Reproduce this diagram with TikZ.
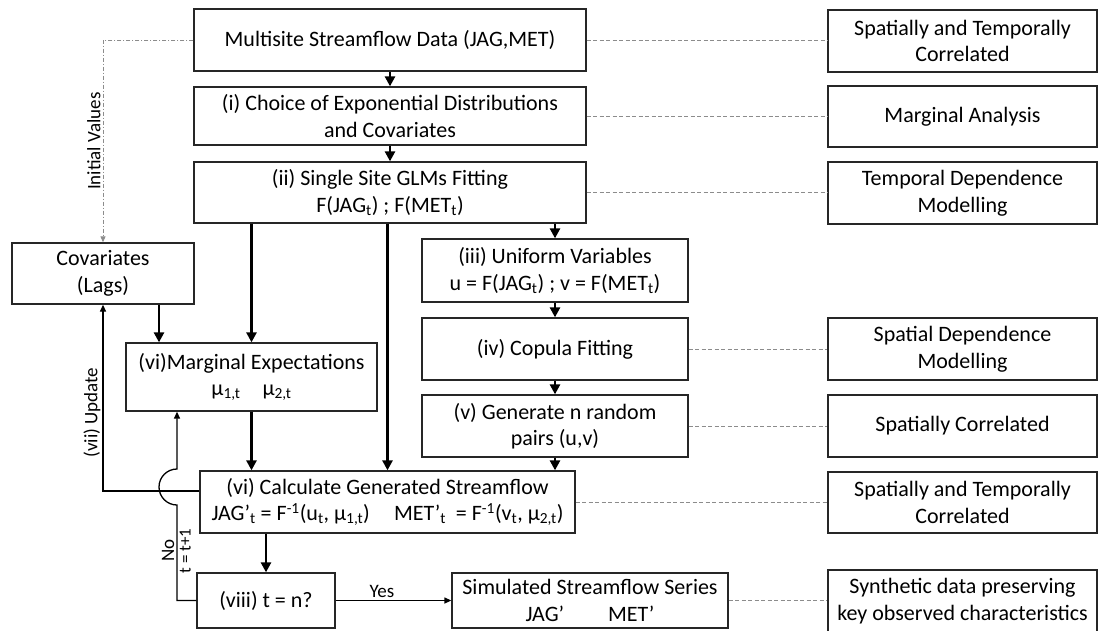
\documentclass[tikz,border=0pt]{standalone}
\usepackage{fontspec}
\setmainfont{Carlito}
\usetikzlibrary{arrows.meta}
\newcommand{\sub}[1]{\textsubscript{#1}}
\newcommand{\spr}[1]{\textsuperscript{#1}}
\tikzset{
  box/.style={draw=black!85, line width=1.3pt, fill=white, align=center,
    inner sep=0pt, font=\fontsize{22}{26.5}\selectfont},
  flow/.style={line width=2.6pt, -{Triangle[length=10pt,width=10pt]}},
  link/.style={line width=1.3pt, -{Triangle[length=7pt,width=6pt]}},
  note/.style={draw=black!45, line width=0.9pt, dash pattern=on 4pt off 2.5pt},
  init/.style={draw=black!45, line width=0.9pt,
    dash pattern=on 4pt off 2pt on 1pt off 2pt, -{Triangle[length=6pt,width=5pt]}},
  lab/.style={font=\fontsize{19}{21}\selectfont, inner sep=2pt},
}
\begin{document}
\begin{tikzpicture}[x=1pt,y=-1pt]
    \useasboundingbox (0,0) rectangle (1100,630);
    % main chain
    \node[box, minimum width=392, minimum height=62] (data) at (390,40) {Multisite Streamflow Data (JAG,MET)};
    \node[box, minimum width=392, minimum height=58] (choice) at (390,116) {(i) Choice of Exponential Distributions\\and Covariates};
    \node[box, minimum width=392, minimum height=61] (glm) at (390,192.5) {(ii) Single Site GLMs Fitting\\F(JAG\sub{t}) ; F(MET\sub{t})};
    \node[box, minimum width=266, minimum height=63] (unif) at (555,270.5) {(iii) Uniform Variables\\u = F(JAG\sub{t}) ; v = F(MET\sub{t})};
    \node[box, minimum width=266, minimum height=62] (cop) at (555,349) {(iv) Copula Fitting};
    \node[box, minimum width=266, minimum height=62] (gen) at (555,426) {(v) Generate n random\\pairs (u,v)};
    \node[box, minimum width=182, minimum height=61] (cov) at (103,273.5) {Covariates\\(Lags)};
    \node[box, minimum width=251, minimum height=68] (marg) at (251.5,377) {(vi)Marginal Expectations\\μ\sub{1,t}\quad μ\sub{2,t}};
    \node[box, minimum width=375, minimum height=62] (calc) at (387.5,502) {(vi) Calculate Generated Streamflow\\JAG’\sub{t} = F\spr{-1}(u\sub{t}, μ\sub{1,t})\hspace{1.1em}MET’\sub{t}\ \ = F\spr{-1}(v\sub{t}, μ\sub{2,t})};
    \node[box, minimum width=138, minimum height=55] (tn) at (266,600.5) {(viii) t = n?};
    \node[box, minimum width=276, minimum height=55] (sim) at (590,600.5) {Simulated Streamflow Series\\JAG’\hspace{2em}MET’};
    % right column
    \node[box, minimum width=269, minimum height=62] (r1) at (962.5,41) {Spatially and Temporally\\Correlated};
    \node[box, minimum width=269, minimum height=61] (r2) at (962.5,116.5) {Marginal Analysis};
    \node[box, minimum width=269, minimum height=62] (r3) at (962.5,193) {Temporal Dependence\\Modelling};
    \node[box, minimum width=269, minimum height=62] (r4) at (962.5,349) {Spatial Dependence\\Modelling};
    \node[box, minimum width=269, minimum height=62] (r5) at (962.5,426) {Spatially Correlated};
    \node[box, minimum width=269, minimum height=61] (r6) at (962.5,502.5) {Spatially and Temporally\\Correlated};
    \node[box, minimum width=269, minimum height=62] (r7) at (962.5,601) {Synthetic data preserving\\key observed characteristics};
    \coordinate (hop) at (177,487);
    % dashed links to the right column
    \draw [note] (data.east) -- (data.east -| r1.west);
    \draw [note] (choice.east) -- (choice.east -| r2.west);
    \draw [note] (glm.east) -- (glm.east -| r3.west);
    \draw [note] (cop.east) -- (cop.east -| r4.west);
    \draw [note] (gen.east) -- (gen.east -| r5.west);
    \draw [note] (calc.east) -- (calc.east -| r6.west);
    \draw [note] (sim.east) -- (sim.east -| r7.west);
    % thick flow
    \draw [flow] (data) -- (choice);
    \draw [flow] (choice) -- (glm);
    \draw [flow] (glm.south -| unif.north) -- (unif.north);
    \draw [flow] (unif) -- (cop);
    \draw [flow] (cop) -- (gen);
    \draw [flow] (gen.south) -- (gen.south |- calc.north);
    \draw [flow] (glm.south -| marg.north) -- (marg.north);
    \draw [flow] (glm.south -| calc.north) -- (calc.north);
    \draw [flow] ([xshift=56pt]cov.south) -- ([xshift=56pt]cov.south |- marg.north);
    \draw [flow] (marg.south) -- (marg.south |- calc.north);
    \draw [flow] (tn.north |- calc.south) -- (tn.north);
    % thin links
    \draw [init] (data.west) -| node[pos=0.75, lab, rotate=90, anchor=south, text=black] {Initial Values} (cov.north);
    \draw [link] ([yshift=11pt]calc.west) -| node[pos=0.71, lab, rotate=90, anchor=south] {(vii) Update} (cov.south);
    \draw [link] (tn.west) -| node[pos=0.76, lab, rotate=90, anchor=south] {No}
      node[pos=0.76, lab, rotate=90, anchor=north, font=\fontsize{17}{19}\selectfont] {t = t+1} ([yshift=-18pt]hop)
      arc[start angle=270, end angle=90, radius=18pt] -- (hop |- marg.south);
    \draw [link] (tn) -- node[pos=0.4, lab, above] {Yes} (sim);
  \end{tikzpicture}
\end{document}
